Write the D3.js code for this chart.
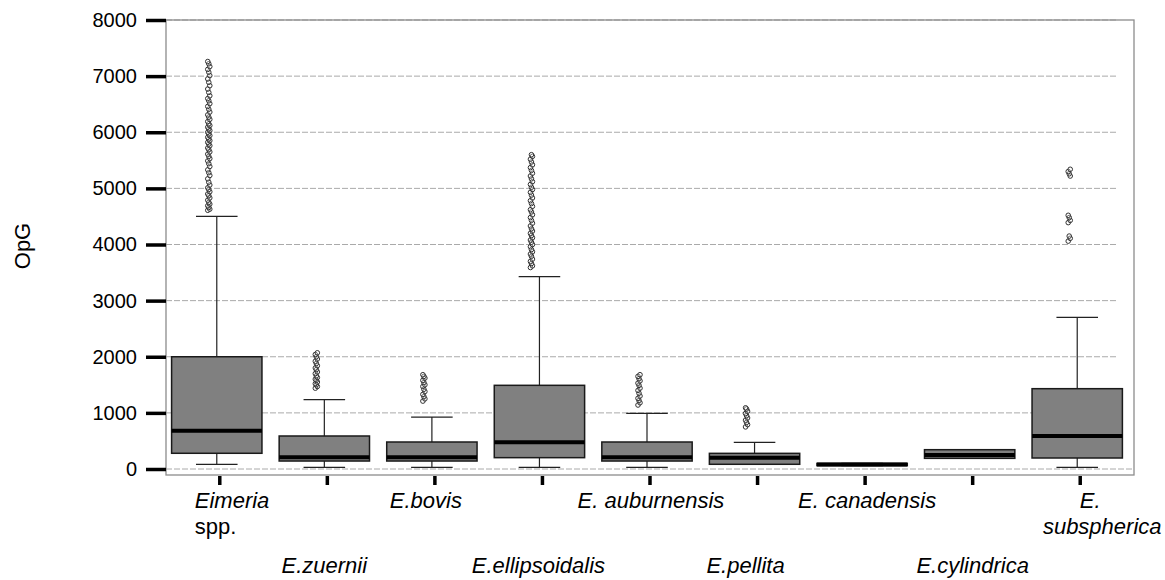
<!DOCTYPE html>
<html>
<head>
<meta charset="utf-8">
<script src="https://cdn.jsdelivr.net/npm/d3@7"></script>
<style>
  body { margin: 0; background: #fff; }
  svg { display: block; font-family: "Liberation Sans", Arial, sans-serif; }
</style>
</head>
<body>
<div class="chart"></div>
<script>
// categories and label lines
var species = ["Eimeria spp.", "E.zuernii", "E.bovis", "E.ellipsoidalis", "E. auburnensis",
               "E.pellita", "E. canadensis", "E.cylindrica", "E. subspherica"];
var labelLines = [["Eimeria", "spp."], ["E.zuernii"], ["E.bovis"], ["E.ellipsoidalis"], ["E. auburnensis"],
                  ["E.pellita"], ["E. canadensis"], ["E.cylindrica"], ["E.", "subspherica"]];
var labelItalic = [[true, false], [true], [true], [true], [true], [true], [true], [true], [true, true]];

// box statistics (OpG)
var whiskerLow  = [84, 30, 30, 30, 30, 84, 60, 190, 30];
var q1          = [280, 142, 142, 202, 142, 84, 60, 190, 196];
var median      = [683, 208, 208, 475, 208, 202, 80, 250, 588];
var q3          = [2000, 588, 481, 1491, 481, 279, 100, 344, 1431];
var whiskerHigh = [4502, 1235, 926, 3426, 992, 475, 100, 344, 2703];

// outliers per species
var outEimeria = [4610, 4630, 4660, 4690, 4720, 4750, 4790, 4830, 4870, 4900, 4940, 4980, 5010, 5060, 5110,
                  5170, 5230, 5280, 5330, 5390, 5440, 5490, 5530, 5570, 5610, 5650, 5690, 5720, 5760, 5790,
                  5820, 5850, 5880, 5910, 5940, 5970, 6000, 6030, 6060, 6090, 6120, 6150, 6190, 6230, 6270,
                  6310, 6360, 6410, 6460, 6510, 6560, 6600, 6650, 6710, 6770, 6830, 6890, 6950, 7010, 7070,
                  7120, 7170, 7220, 7260];
var outZuernii = [1440, 1470, 1500, 1520, 1550, 1580, 1600, 1630, 1660, 1700, 1730, 1770, 1800, 1840,
                  1880, 1920, 1960, 2000, 2040, 2070];
var outBovis = [1210, 1250, 1290, 1330, 1380, 1420, 1470, 1500, 1540, 1580, 1620, 1650, 1680];
var outEllipsoidalis = [3590, 3620, 3660, 3700, 3740, 3790, 3830, 3870, 3910, 3960, 4000, 4040, 4080, 4120,
                        4160, 4200, 4240, 4280, 4330, 4380, 4430, 4480, 4530, 4580, 4620, 4680, 4730, 4780,
                        4830, 4880, 4930, 4980, 5020, 5070, 5120, 5170, 5220, 5270, 5320, 5370, 5420, 5470,
                        5520, 5570, 5600];
var outAuburnensis = [1140, 1180, 1220, 1260, 1300, 1350, 1400, 1440, 1490, 1530, 1570, 1610, 1650, 1680];
var outPellita = [750, 790, 830, 870, 910, 950, 990, 1030, 1070, 1090];
var outCanadensis = [];
var outCylindrica = [];
var outSubspherica = [4060, 4110, 4150, 4390, 4430, 4480, 4520, 5220, 5260, 5300, 5340];
var outliers = [outEimeria, outZuernii, outBovis, outEllipsoidalis, outAuburnensis,
                outPellita, outCanadensis, outCylindrica, outSubspherica];

var yTicks = [0, 1000, 2000, 3000, 4000, 5000, 6000, 7000, 8000];

// layout
var W = 1165, H = 580;
var frame = {left: 166, right: 1134, top: 20, bottom: 475};
// label row (0 top, 1 bottom) and horizontal nudge relative to tick
var labelRow = [0, 1, 0, 1, 0, 1, 0, 1, 0];
var labelDx = [[-25, -25], [-3], [-9], [-4], [1], [-12], [2], [0], [10, 22]];
var labelAnchor = ["start", "middle", "middle", "middle", "middle", "middle", "middle", "middle", "middle"];

var svg = d3.select(".chart").append("svg")
  .attr("width", W)
  .attr("height", H);

var xScale = d3.scaleBand().domain(species).range([frame.left, frame.right]).padding(0);
var yScale = d3.scaleLinear().domain([0, 8000]).range([469, 20]);

var bw = xScale.bandwidth();
var boxW = bw * 0.84;
var capW = boxW * 0.46;
var cx = function(i) { return xScale(species[i]) + bw / 2 - 3; };

// gridlines
svg.append("g").selectAll("line")
  .data(yTicks)
  .enter().append("line")
    .attr("x1", frame.left)
    .attr("x2", (d) => { return d == 0 ? frame.right : 1118; })
    .attr("y1", (d) => { return yScale(d); })
    .attr("y2", (d) => { return yScale(d); })
    .attr("stroke", "#aaa")
    .attr("stroke-width", 1)
    .attr("stroke-dasharray", "6,2");

// frame
svg.append("rect")
  .attr("x", frame.left)
  .attr("y", frame.top)
  .attr("width", frame.right - frame.left)
  .attr("height", frame.bottom - frame.top)
  .attr("fill", "none")
  .attr("stroke", "#8c8c8c")
  .attr("stroke-width", 1.3);

// y axis
var yAxis = d3.axisLeft(yScale).tickValues(yTicks).tickSize(20).tickPadding(9).tickFormat(d3.format("d"));
var gy = svg.append("g")
  .attr("transform", "translate(" + frame.left + ",0)")
  .call(yAxis);
gy.select(".domain").remove();
gy.selectAll(".tick line").attr("stroke", "#000").attr("stroke-width", 3.5);
gy.selectAll(".tick text").style("font-size", "20px").attr("fill", "#000");

// x axis ticks
var xAxis = d3.axisBottom(xScale).tickSize(9).tickFormat("");
var gx = svg.append("g")
  .attr("transform", "translate(0," + (frame.bottom + 1) + ")")
  .call(xAxis);
gx.select(".domain").remove();
gx.selectAll(".tick line").attr("stroke", "#000").attr("stroke-width", 3.5);

// x labels
var rowY = [[508, 534], [573]];
species.forEach((s, i) => {
  labelLines[i].forEach((txt, j) => {
    var baseY = labelRow[i] == 0 ? rowY[0][j] : rowY[1][j];
    svg.append("text")
      .attr("x", xScale(s) + bw / 2 + labelDx[i][j])
      .attr("y", baseY)
      .attr("text-anchor", labelAnchor[i])
      .style("font-size", "22px")
      .style("font-style", labelItalic[i][j] ? "italic" : "normal")
      .text(txt);
  });
});

// y title
svg.append("text")
  .attr("transform", "translate(30,246) rotate(-90)")
  .attr("text-anchor", "middle")
  .style("font-size", "22px")
  .text("OpG");

// boxes
var boxes = svg.append("g").selectAll("g")
  .data(species)
  .enter().append("g");

// whisker stems
boxes.append("line")
  .attr("x1", (d, i) => cx(i)).attr("x2", (d, i) => cx(i))
  .attr("y1", (d, i) => yScale(whiskerHigh[i]))
  .attr("y2", (d, i) => yScale(q3[i]))
  .attr("stroke", "#222").attr("stroke-width", 1.2);
boxes.append("line")
  .attr("x1", (d, i) => cx(i)).attr("x2", (d, i) => cx(i))
  .attr("y1", (d, i) => yScale(q1[i]))
  .attr("y2", (d, i) => yScale(whiskerLow[i]))
  .attr("stroke", "#222").attr("stroke-width", 1.2);
// caps
boxes.append("line")
  .attr("x1", (d, i) => cx(i) - capW / 2).attr("x2", (d, i) => cx(i) + capW / 2)
  .attr("y1", (d, i) => yScale(whiskerHigh[i]))
  .attr("y2", (d, i) => yScale(whiskerHigh[i]))
  .attr("stroke", "#222").attr("stroke-width", 1.2);
boxes.append("line")
  .attr("x1", (d, i) => cx(i) - capW / 2).attr("x2", (d, i) => cx(i) + capW / 2)
  .attr("y1", (d, i) => yScale(whiskerLow[i]))
  .attr("y2", (d, i) => yScale(whiskerLow[i]))
  .attr("stroke", "#222").attr("stroke-width", 1.2);

// box body
boxes.append("rect")
  .attr("x", (d, i) => cx(i) - boxW / 2)
  .attr("y", (d, i) => yScale(q3[i]))
  .attr("width", boxW)
  .attr("height", (d, i) => Math.max(yScale(q1[i]) - yScale(q3[i]), 0.5))
  .attr("fill", "#808080")
  .attr("stroke", "#1a1a1a")
  .attr("stroke-width", 1.5);

// median
boxes.append("line")
  .attr("x1", (d, i) => cx(i) - boxW / 2).attr("x2", (d, i) => cx(i) + boxW / 2)
  .attr("y1", (d, i) => yScale(median[i]))
  .attr("y2", (d, i) => yScale(median[i]))
  .attr("stroke", "#000").attr("stroke-width", 4);

// outliers
boxes.each(function(d, i) {
  d3.select(this).selectAll("circle")
    .data(outliers[i])
    .enter().append("circle")
      .attr("cx", (v, k) => cx(i) - 8 + [-1, 1, 0][k % 3])
      .attr("cy", (v) => yScale(v))
      .attr("r", 2.3)
      .attr("fill", "#fff")
      .attr("fill-opacity", 0.3)
      .attr("stroke", "#333")
      .attr("stroke-width", 1);
});
</script>
</body>
</html>
